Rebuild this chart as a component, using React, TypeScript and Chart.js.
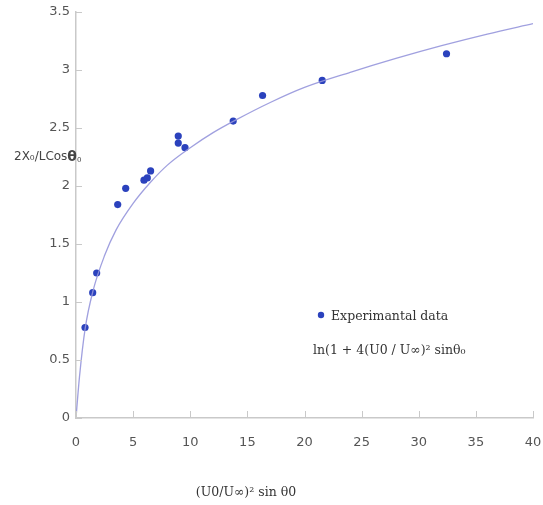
import React, { useEffect, useRef } from "react";
import { Chart, registerables } from "chart.js";

Chart.register(...registerables);

const expX = [0.79, 1.46, 1.81, 3.65, 4.35, 5.95, 6.24, 6.53, 8.95, 8.95, 9.54, 13.76, 16.33, 21.55, 32.43];
const expY = [0.78, 1.08, 1.25, 1.84, 1.98, 2.05, 2.07, 2.13, 2.43, 2.37, 2.33, 2.56, 2.78, 2.91, 3.14];

// Fitted curve
const curveX = [0, 0.3, 0.8, 1.5, 2.5, 3.5, 5, 6.5, 8, 10, 12, 14, 17, 20, 24, 28, 32, 36, 40];
const curveY = [0, 0.35, 0.77, 1.1, 1.4, 1.62, 1.85, 2.03, 2.18, 2.33, 2.46, 2.57, 2.72, 2.85, 2.98, 3.1, 3.21, 3.31, 3.4];

const xTicks = [0, 5, 10, 15, 20, 25, 30, 35, 40];
const yTicks = [0, 0.5, 1, 1.5, 2, 2.5, 3, 3.5];

const xTitle = "(U0/U∞)² sin θ0";
const yTitleA = "2X₀/LCos";
const yTitleB = "θ";
const yTitleC = "₀";
const legendA = "Experimantal data";
const legendB = "ln(1 + 4(U0 / U∞)² sinθ₀";

const POINT_COLOR = "#2b42bd";
const LINE_COLOR = "rgba(150,150,220,0.9)";
const AXIS_COLOR = "#c9c9c9";

const overlay = {
  id: "overlay",
  afterDraw(chart: any) {
    const ctx = chart.ctx;
    const xs = chart.scales.x;
    const ys = chart.scales.y;
    const area = chart.chartArea;
    ctx.save();
    // inward tick marks
    ctx.strokeStyle = AXIS_COLOR;
    ctx.lineWidth = 1;
    ctx.beginPath();
    for (const v of yTicks) {
      const py = Math.round(ys.getPixelForValue(v)) + 0.5;
      ctx.moveTo(area.left, py);
      ctx.lineTo(area.left + 6, py);
    }
    for (const v of xTicks) {
      const px = Math.round(xs.getPixelForValue(v)) + 0.5;
      ctx.moveTo(px, area.bottom);
      ctx.lineTo(px, area.bottom - 7);
    }
    ctx.stroke();

    // y title
    ctx.fillStyle = "#444";
    ctx.textBaseline = "middle";
    ctx.textAlign = "left";
    ctx.font = "12px 'DejaVu Sans'";
    let tx = 14;
    const ty = 157;
    ctx.fillText(yTitleA, tx, ty);
    tx += ctx.measureText(yTitleA).width;
    ctx.font = "bold 14px 'DejaVu Sans'";
    ctx.fillText(yTitleB, tx, ty);
    tx += ctx.measureText(yTitleB).width;
    ctx.font = "11px 'DejaVu Sans'";
    ctx.fillText(yTitleC, tx, ty + 2);

    // x title
    ctx.fillStyle = "#333";
    ctx.font = "12.5px 'DejaVu Serif'";
    ctx.textAlign = "center";
    ctx.fillText(xTitle, 246, 493);

    // legend
    ctx.fillStyle = POINT_COLOR;
    ctx.beginPath();
    ctx.arc(321, 315, 3.2, 0, Math.PI * 2);
    ctx.fill();
    ctx.fillStyle = "#333";
    ctx.textAlign = "left";
    ctx.font = "12.5px 'DejaVu Serif'";
    ctx.fillText(legendA, 331, 317);
    ctx.fillText(legendB, 313, 351);
    ctx.restore();
  },
};

export default function App() {
  const ref = useRef<HTMLCanvasElement | null>(null);
  useEffect(() => {
    if (!ref.current) return;
    const chart = new Chart(ref.current, {
      type: "scatter",
      data: {
        datasets: [
          {
            type: "line",
            label: legendB,
            data: curveX.map((x, i) => ({ x, y: curveY[i] })),
            borderColor: LINE_COLOR,
            borderWidth: 1.3,
            pointRadius: 0,
            fill: false,
            cubicInterpolationMode: "monotone",
          } as any,
          {
            label: legendA,
            data: expX.map((x, i) => ({ x, y: expY[i] })),
            backgroundColor: POINT_COLOR,
            borderColor: POINT_COLOR,
            pointRadius: 3.6,
            borderWidth: 0,
          },
        ],
      },
      options: {
        responsive: false,
        animation: false,
        layout: { padding: { top: 12, right: 10, left: 0, bottom: 0 } },
        plugins: { legend: { display: false }, tooltip: { enabled: false } },
        scales: {
          x: {
            type: "linear",
            min: 0,
            max: 40,
            afterBuildTicks: (s: any) => {
              s.ticks = xTicks.map((v) => ({ value: v }));
            },
            afterFit: (s: any) => {
              s.height = 87;
              s.paddingLeft = 0;
              s.paddingRight = 0;
            },
            grid: { display: true, drawOnChartArea: false, drawTicks: false },
            border: { display: true, color: AXIS_COLOR, width: 1.5 },
            ticks: {
              padding: 17,
              color: "#555",
              font: { family: "'DejaVu Sans'", size: 13 },
              maxRotation: 0,
              callback: (v: any) => String(v),
            },
          },
          y: {
            type: "linear",
            min: 0,
            max: 3.5,
            afterBuildTicks: (s: any) => {
              s.ticks = yTicks.map((v) => ({ value: v }));
            },
            afterFit: (s: any) => {
              s.width = 76;
              s.paddingTop = 0;
              s.paddingBottom = 0;
            },
            grid: { display: true, drawOnChartArea: false, drawTicks: false },
            border: { display: true, color: AXIS_COLOR, width: 1.5 },
            ticks: {
              padding: 6,
              color: "#555",
              font: { family: "'DejaVu Sans'", size: 13 },
              callback: (v: any) => String(v),
            },
          },
        },
      },
      plugins: [overlay],
    });
    return () => chart.destroy();
  }, []);
  return (
    <div style={{ position: "absolute", left: 0, top: 0, width: 543, height: 505, background: "#fff" }}>
      <canvas ref={ref} width={543} height={505} />
    </div>
  );
}
